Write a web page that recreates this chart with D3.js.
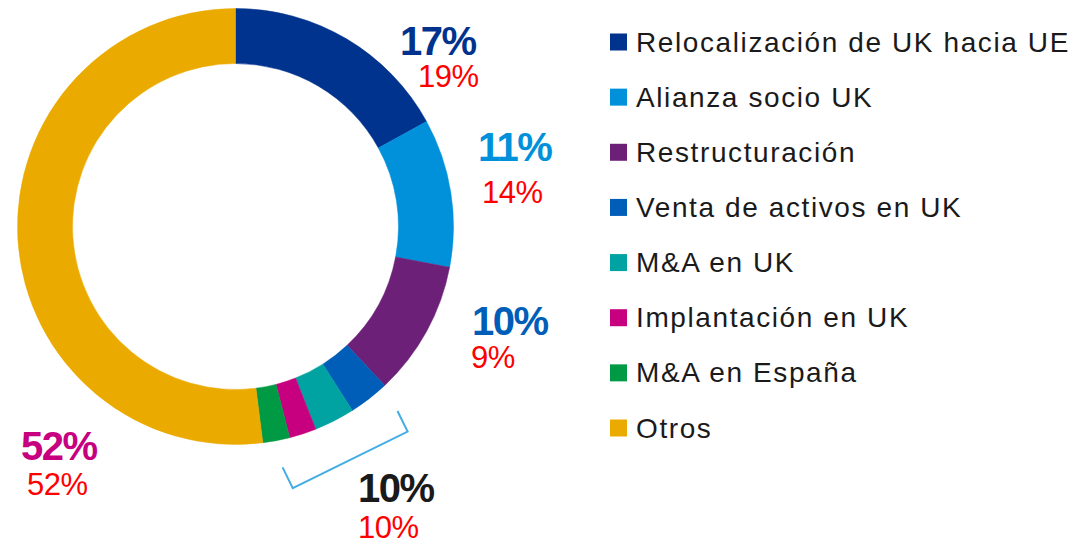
<!DOCTYPE html>
<html>
<head>
<meta charset="utf-8">
<script src="https://cdn.jsdelivr.net/npm/d3@7"></script>
<style>
  html, body { margin: 0; padding: 0; background: #ffffff; }
  svg { display: block; font-family: "Liberation Sans", Arial, sans-serif; }
</style>
</head>
<body>
<svg id="chart" width="1080" height="542"></svg>
<script>
// ---- data ----
const categories = ["Relocalización de UK hacia UE", "Alianza socio UK", "Restructuración",
  "Venta de activos en UK", "M&A en UK", "Implantación en UK", "M&A en España", "Otros"];
const shares = [17, 11, 10, 3, 3, 2, 2, 52];
const colors = ["#00338D", "#0091DA", "#6D2077", "#005EB8", "#00A3A1", "#C6007E", "#009A44", "#EAAA00"];

// label groups: current share (bold) and previous share (red)
const groupCurrent = [17, 11, 10, 10, 52];
const groupPrevious = [19, 14, 9, 10, 52];
const groupColors = ["#00338D", "#0091DA", "#005EB8", "#1a1a1a", "#C6007E"];

// ---- layout (not data) ----
const cx = 235.5, cy = 226.5, rOuter = 218, rInner = 163;
const boldPos = [[400, 55], [478, 161], [472, 335], [358, 502], [21, 460]];
const redPos = [[418, 87], [482, 203], [471, 368], [358, 538], [27, 495]];

const svg = d3.select("#chart");
svg.append("rect").attr("width", 1080).attr("height", 542).attr("fill", "#fff");

const pie = d3.pie().sort(null).value(d => d).startAngle(0).endAngle(2 * Math.PI);
const arcs = pie(shares);
const arc = d3.arc().innerRadius(rInner).outerRadius(rOuter);

const g = svg.append("g").attr("transform", `translate(${cx},${cy})`);
g.selectAll("path").data(arcs).join("path")
  .attr("d", arc)
  .attr("fill", (d, i) => colors[i])
  .attr("stroke", (d, i) => colors[i])
  .attr("stroke-width", 0.5);

// bracket over the small segments (indices 3..6)
const a0 = arcs[3].startAngle, a1 = arcs[6].endAngle;
const am = (a0 + a1) / 2 - 0.017;
const dist = 260, half = 64, tick = 23;
const rad = [Math.sin(am), -Math.cos(am)];
const tan = [Math.cos(am), Math.sin(am)];
const mid = [rad[0] * dist, rad[1] * dist];
const p1 = [mid[0] + tan[0] * half, mid[1] + tan[1] * half];
const p2 = [mid[0] - tan[0] * half, mid[1] - tan[1] * half];
const t1 = [p1[0] - rad[0] * tick, p1[1] - rad[1] * tick];
const t2 = [p2[0] - rad[0] * tick, p2[1] - rad[1] * tick];
g.append("path")
  .attr("d", d3.line()([t1, p1, p2, t2]))
  .attr("fill", "none")
  .attr("stroke", "#45ADE6")
  .attr("stroke-width", 2);

// percentage labels
svg.selectAll("text.cur").data(groupCurrent).join("text")
  .attr("class", "cur")
  .attr("x", (d, i) => boldPos[i][0])
  .attr("y", (d, i) => boldPos[i][1])
  .attr("fill", (d, i) => groupColors[i])
  .attr("font-size", 40)
  .attr("font-weight", "bold")
  .attr("letter-spacing", -1.5)
  .text(d => d + "%");

svg.selectAll("text.prev").data(groupPrevious).join("text")
  .attr("class", "prev")
  .attr("x", (d, i) => redPos[i][0])
  .attr("y", (d, i) => redPos[i][1])
  .attr("fill", "#FF0000")
  .attr("font-size", 31)
  .attr("letter-spacing", -0.5)
  .text(d => d + "%");

// legend
const legY = d3.scalePoint().domain(categories).range([42, 428]);
const leg = svg.append("g");
const items = leg.selectAll("g").data(categories).join("g")
  .attr("transform", d => `translate(610,${legY(d)})`);
items.append("rect")
  .attr("x", 0).attr("y", -8.5).attr("width", 17).attr("height", 17)
  .attr("fill", (d, i) => colors[i]);
items.append("text")
  .attr("x", 26).attr("y", 0)
  .attr("dominant-baseline", "central")
  .attr("font-size", 28)
  .attr("letter-spacing", 1.6)
  .attr("fill", "#1a1a1a")
  .text(d => d);
</script>
</body>
</html>
